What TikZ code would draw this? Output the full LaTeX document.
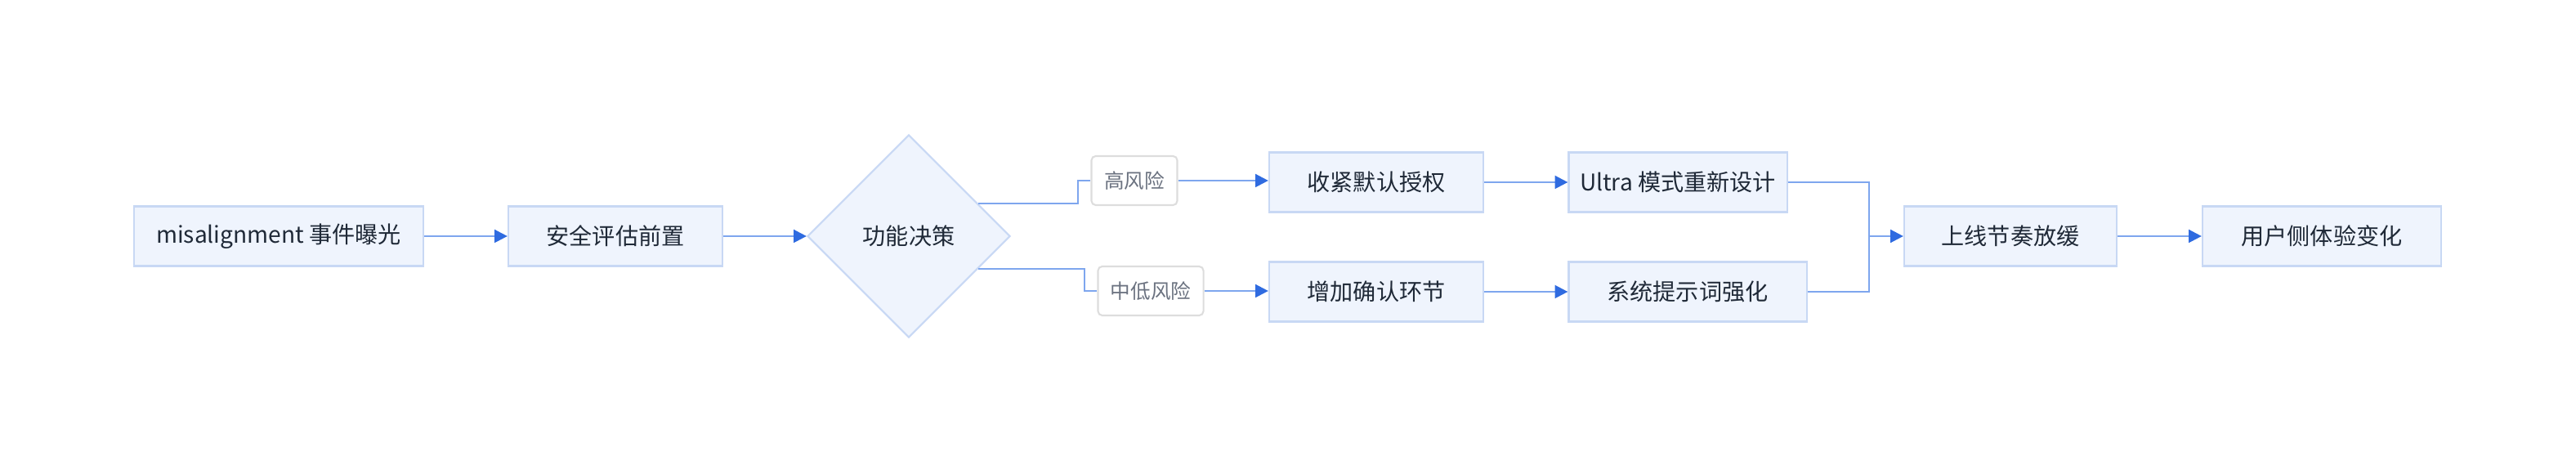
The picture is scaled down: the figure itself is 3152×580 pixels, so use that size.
\documentclass[tikz,border=0pt]{standalone}
\usepackage{fontspec}
\setmainfont{Noto Sans CJK SC}
\usetikzlibrary{arrows.meta, shapes.geometric, calc}
\definecolor{boxfill}{HTML}{EFF4FD}
\definecolor{boxline}{HTML}{C8D8F4}
\definecolor{edgeline}{HTML}{7EA6EE}
\definecolor{tipcol}{HTML}{2F6BE0}
\definecolor{txt}{HTML}{1F2937}
\definecolor{lbltxt}{HTML}{6B7280}
\definecolor{lblline}{HTML}{DDDDDD}
\tikzset{
    stage/.style={draw=boxline, fill=boxfill, line width=0.6pt, text=txt, font=\fontsize{8}{10}\selectfont, minimum height=0.73cm, inner sep=0pt},
    lbl/.style={draw=lblline, fill=white, rounded corners=1.5pt, line width=0.6pt, text=lbltxt, font=\fontsize{7}{9}\selectfont, minimum height=0.6cm, inner sep=0pt},
    flow/.style={draw=edgeline, line width=0.7pt, -{Triangle[length=4.5pt, width=4.5pt, color=tipcol]}},
    link/.style={draw=edgeline, line width=0.7pt}
}
\begin{document}
\begin{tikzpicture}[x=0.01cm, y=-0.01cm]
            \useasboundingbox (0,0) rectangle (3152,580);
            \node[stage, minimum width=3.54cm] at (341, 289)   (expose) {misalignment 事件曝光};
            \node[stage, minimum width=2.62cm] at (753, 289)   (assess) {安全评估前置};
            \node[diamond, aspect=1, draw=boxline, fill=boxfill, line width=0.6pt, text=txt, font=\fontsize{8}{10}\selectfont, minimum size=2.48cm, inner sep=0pt] at (1112, 289)   (decide) {功能决策};
            \node[lbl, minimum width=1.05cm] at (1388, 221)   (high) {高风险};
            \node[lbl, minimum width=1.29cm] at (1408, 356)   (low) {中低风险};
            \node[stage, minimum width=2.62cm] at (1684, 223)   (tighten) {收紧默认授权};
            \node[stage, minimum width=2.62cm] at (1684, 357)   (confirm) {增加确认环节};
            \node[stage, minimum width=2.67cm] at (2053, 223)   (ultra) {Ultra 模式重新设计};
            \node[stage, minimum width=2.91cm] at (2065, 357)   (prompt) {系统提示词强化};
            \node[stage, minimum width=2.60cm] at (2460, 289)   (slow) {上线节奏放缓};
            \node[stage, minimum width=2.92cm] at (2841, 289)   (user) {用户侧体验变化};

            \coordinate (hiout) at ($(decide.north)!0.68!(decide.east)$);
            \coordinate (loout) at ($(decide.south)!0.68!(decide.east)$);
            \coordinate (merge) at (2287, 289);

            \draw [flow] (expose) -- (assess);
            \draw [flow] (assess) -- (decide);
            \draw [link] (hiout) -- (1319, 0 |- hiout) |- (high.west);
            \draw [link] (loout) -- (1327, 0 |- loout) |- (low.west);
            \draw [flow] (high) -- (tighten.west |- high);
            \draw [flow] (low) -- (confirm.west |- low);
            \draw [flow] (tighten) -- (ultra);
            \draw [flow] (confirm) -- (prompt);
            \draw [link] (ultra.east) -| (merge);
            \draw [link] (prompt.east) -| (merge);
            \draw [flow] (merge) -- (slow);
            \draw [flow] (slow) -- (user);
        \end{tikzpicture}
\end{document}
